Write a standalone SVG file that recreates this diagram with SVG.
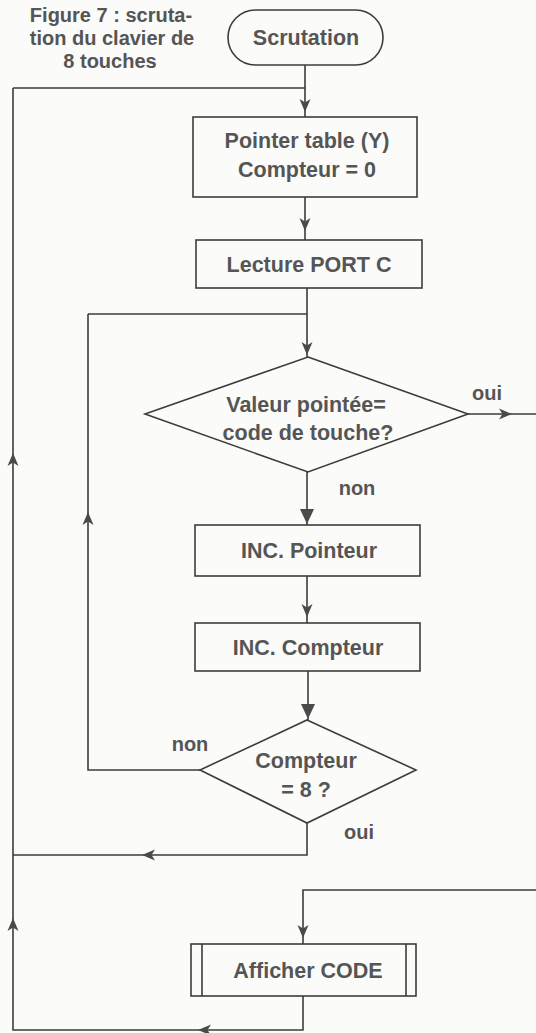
<svg xmlns="http://www.w3.org/2000/svg" width="536" height="1033" viewBox="0 0 536 1033">
<style>
.bg{fill:#fbfbf9}
.shape{fill:none;stroke:#3c3c3c;stroke-width:1.6}
.line{fill:none;stroke:#3c3c3c;stroke-width:1.6}
.t{font-family:"Liberation Sans",Arial,sans-serif;font-weight:bold;font-size:21.5px;fill:#555;text-anchor:middle}
.cap{font-size:20px}
.lab{font-size:20px}
.ah{fill:#4a4a4a}
</style>
<defs>
<path id="as" d="M0,0 L-5.5,-13 L0,-9.5 L5.5,-13 Z"/>
<path id="af" d="M0,0 L-7,-15 L7,-15 Z"/>
</defs>
<rect class="bg" x="0" y="0" width="536" height="1033"/>
<g id="caption">
<text class="t cap" x="111" y="22">Figure 7 : scruta-</text>
<text class="t cap" x="112" y="45">tion du clavier de</text>
<text class="t cap" x="110" y="68">8 touches</text>
</g>
<g id="connectors">
<path class="line" d="M305,65 V117"/>
<path class="line" d="M13,88 H305"/>
<path class="line" d="M13,88 V1030 H303 V996"/>
<path class="line" d="M305,197 V240"/>
<path class="line" d="M307,288 V357"/>
<path class="line" d="M88,314 H307"/>
<path class="line" d="M307,472 V525"/>
<path class="line" d="M468,414 H536"/>
<path class="line" d="M307,576 V623"/>
<path class="line" d="M308,671 V720"/>
<path class="line" d="M200,770 H88 V314"/>
<path class="line" d="M307,823 V855 H13"/>
<path class="line" d="M536,890 H303 V944"/>
<g class="ah">
<use href="#as" transform="translate(305,112)"/>
<use href="#as" transform="translate(305,231)"/>
<use href="#as" transform="translate(307,355)"/>
<use href="#af" transform="translate(307,524)"/>
<use href="#as" transform="translate(307,617)"/>
<use href="#af" transform="translate(308,719)"/>
<use href="#as" transform="translate(512,414) rotate(-90)"/>
<use href="#as" transform="translate(88,512) rotate(180)"/>
<use href="#as" transform="translate(13,453) rotate(180)"/>
<use href="#as" transform="translate(13,918) rotate(180)"/>
<use href="#as" transform="translate(142,855) rotate(90)"/>
<use href="#as" transform="translate(303,938)"/>
<use href="#as" transform="translate(198,1030) rotate(90)"/>
</g>
<text class="t lab" x="487" y="400">oui</text>
<text class="t lab" x="357" y="495">non</text>
<text class="t lab" x="190" y="751">non</text>
<text class="t lab" x="359" y="839">oui</text>
</g>
<g id="n-start">
<rect class="shape" x="228" y="10" width="155" height="55" rx="27.5"/>
<text class="t" x="306" y="45">Scrutation</text>
</g>
<g id="n-init">
<rect class="shape" x="193" y="117" width="224" height="80"/>
<text class="t" x="307" y="148">Pointer table (Y)</text>
<text class="t" x="307" y="177">Compteur = 0</text>
</g>
<g id="n-read">
<rect class="shape" x="196" y="240" width="226" height="48"/>
<text class="t" x="309" y="272">Lecture PORT C</text>
</g>
<g id="n-test1">
<path class="shape" d="M308,357 L468,414 L308,472 L145,414 Z"/>
<text class="t" x="306" y="412">Valeur pointée=</text>
<text class="t" x="308" y="440">code de touche?</text>
</g>
<g id="n-incp">
<rect class="shape" x="195" y="525" width="225" height="51"/>
<text class="t" x="309" y="558">INC. Pointeur</text>
</g>
<g id="n-incc">
<rect class="shape" x="195" y="623" width="225" height="48"/>
<text class="t" x="308" y="655">INC. Compteur</text>
</g>
<g id="n-test2">
<path class="shape" d="M307,720 L416,770 L307,823 L200,770 Z"/>
<text class="t" x="306" y="768">Compteur</text>
<text class="t" x="306" y="797">= 8 ?</text>
</g>
<g id="n-show">
<rect class="shape" x="191" y="944" width="225" height="52"/>
<path class="shape" d="M202,944 V996 M406,944 V996"/>
<text class="t" x="308" y="978">Afficher CODE</text>
</g>
</svg>
